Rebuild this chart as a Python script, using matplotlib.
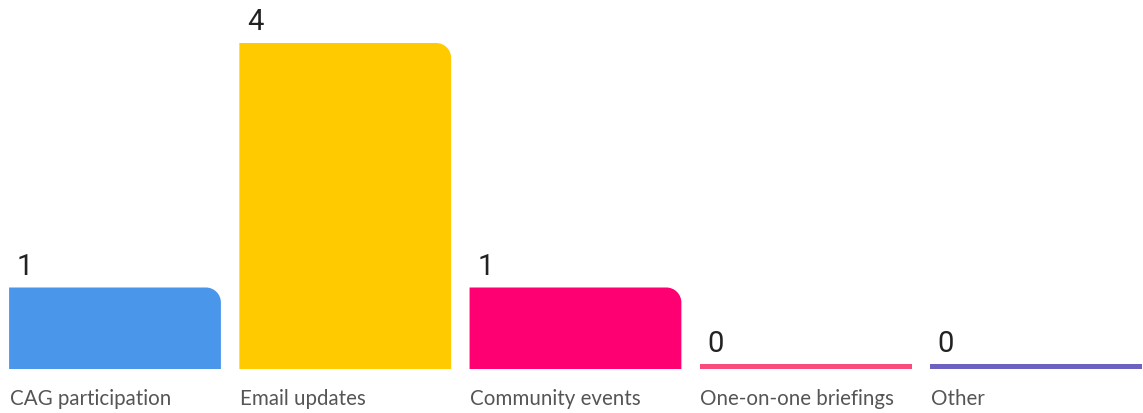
import matplotlib
matplotlib.use("Agg")
import matplotlib.pyplot as plt
from matplotlib.path import Path
from matplotlib.patches import PathPatch

categories = ["CAG participation", "Email updates", "Community events",
              "One-on-one briefings", "Other"]
values = [1, 4, 1, 0, 0]
colors = ["#4A96EA", "#FFCB00", "#FF0073", "#FA4C7C", "#6D62C0"]

W, H, DPI = 1143, 414, 100
fig = plt.figure(figsize=(W / DPI, H / DPI), dpi=DPI)
ax = fig.add_axes([0, 0, 1, 1])
ax.set_xlim(-0.4995, 4.465)
ax.set_ylim(-0.54, 4.54)
ax.axis("off")

bar_w = 0.92
# pixel -> data conversions for corner radius and minimum stroke
px_x = (4.465 + 0.4995) / W
px_y = (4.54 + 0.54) / H
rx, ry = 15 * px_x, 15 * px_y
min_h = 4.5 * px_y


def bar_path(x0, x1, h):
    """Rectangle with only the top-right corner rounded."""
    r_x = min(rx, (x1 - x0) / 2)
    r_y = min(ry, h)
    k = 0.5523
    verts = [
        (x0, 0), (x1, 0), (x1, h - r_y),
        (x1, h - r_y + k * r_y), (x1 - r_x + k * r_x, h), (x1 - r_x, h),
        (x0, h), (x0, 0),
    ]
    codes = [Path.MOVETO, Path.LINETO, Path.LINETO,
             Path.CURVE4, Path.CURVE4, Path.CURVE4,
             Path.LINETO, Path.CLOSEPOLY]
    return Path(verts, codes)


for i, (cat, v, c) in enumerate(zip(categories, values, colors)):
    x0 = i - bar_w / 2
    x1 = i + bar_w / 2
    if v > 0:
        ax.add_patch(PathPatch(bar_path(x0, x1, v), facecolor=c,
                               edgecolor="none"))
        top = v
    else:
        ax.add_patch(plt.Rectangle((x0, 0), bar_w, min_h, facecolor=c,
                                   edgecolor="none"))
        top = min_h
    ax.annotate(str(v), (x0, top), xytext=(5.5, 5.5), textcoords="offset points",
                ha="left", va="bottom", fontsize=21, color="#222222",
                family="Roboto")
    ax.annotate(cat, (x0, 0), xytext=(0.5, -13.5), textcoords="offset points",
                ha="left", va="top", fontsize=14.8, color="#555555",
                family="Lato")

fig.savefig("out.png", dpi=DPI, facecolor="white")
